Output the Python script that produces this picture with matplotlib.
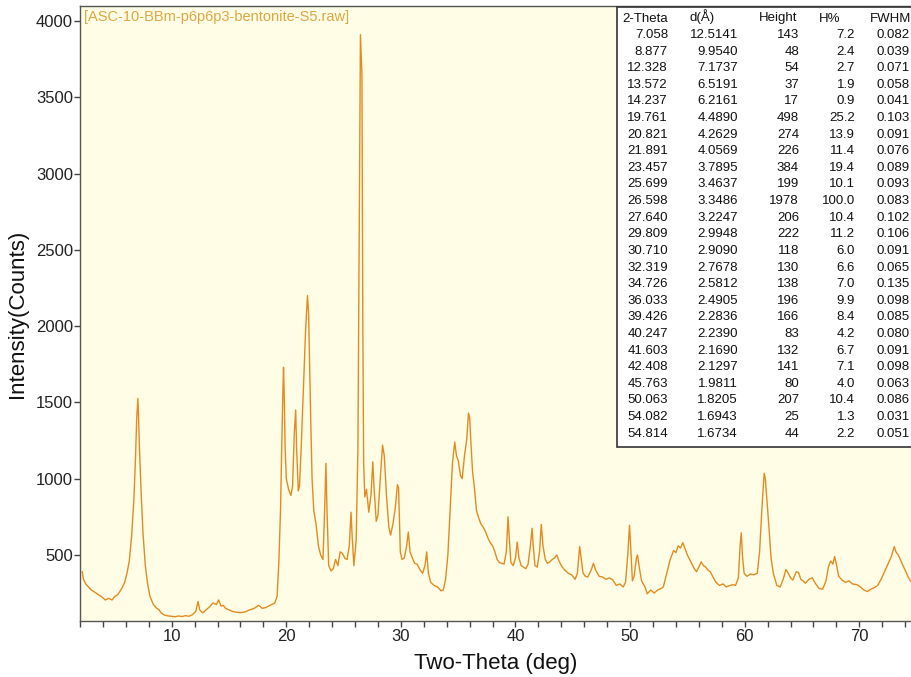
import matplotlib
matplotlib.use("Agg")
import matplotlib.pyplot as plt
from matplotlib.ticker import MultipleLocator
from matplotlib.patches import Rectangle

plt.rcParams['font.family'] = ['Liberation Sans', 'DejaVu Sans']

# ---- XRD pattern ----
two_theta = [2.2, 2.3, 2.5, 2.8, 3.0, 3.3, 3.6, 3.9, 4.2, 4.5, 4.8, 5.0, 5.3, 5.6, 5.9, 6.1, 6.3, 6.5, 6.7,
             6.85, 6.95, 7.05, 7.12, 7.2, 7.35, 7.5, 7.7, 7.9, 8.1, 8.4, 8.7, 8.9, 9.1, 9.4, 9.7, 10.0,
             10.3, 10.6, 10.9, 11.2, 11.5, 11.8, 12.1, 12.3, 12.45, 12.7, 13.0, 13.3, 13.6, 13.9, 14.1,
             14.3, 14.5, 14.7, 15.0, 15.3, 15.6, 16.0, 16.4, 16.8, 17.2, 17.6, 17.9, 18.2, 18.6, 19.0,
             19.2, 19.35, 19.5, 19.6, 19.7, 19.76, 19.82, 19.9, 20.0, 20.2, 20.4, 20.55, 20.7, 20.82,
             20.9, 21.05, 21.15, 21.3, 21.5, 21.7, 21.85, 21.95, 22.1, 22.25, 22.4, 22.6, 22.8, 23.0,
             23.2, 23.35, 23.46, 23.55, 23.7, 23.9, 24.1, 24.3, 24.5, 24.7, 24.9, 25.1, 25.3, 25.5,
             25.65, 25.75, 25.9, 26.1, 26.25, 26.38, 26.47, 26.6, 26.68, 26.75, 26.85, 27.0, 27.2, 27.4,
             27.55, 27.65, 27.85, 28.0, 28.2, 28.4, 28.55, 28.75, 28.95, 29.1, 29.3, 29.5, 29.7, 29.8,
             29.95, 30.1, 30.3, 30.5, 30.65, 30.8, 31.0, 31.2, 31.4, 31.7, 31.9, 32.1, 32.25, 32.4,
             32.6, 32.9, 33.2, 33.5, 33.7, 33.9, 34.1, 34.3, 34.5, 34.7, 34.85, 35.0, 35.2, 35.35,
             35.55, 35.75, 35.9, 36.0, 36.1, 36.25, 36.4, 36.6, 36.8, 37.0, 37.2, 37.4, 37.6, 37.8,
             38.0, 38.2, 38.4, 38.6, 38.8, 39.0, 39.2, 39.35, 39.45, 39.6, 39.8, 40.0, 40.15, 40.3,
             40.5, 40.7, 40.9, 41.1, 41.3, 41.45, 41.55, 41.7, 41.9, 42.1, 42.25, 42.4, 42.6, 42.8,
             43.0, 43.2, 43.4, 43.6, 43.8, 44.0, 44.3, 44.6, 44.9, 45.2, 45.4, 45.6, 45.75, 45.9,
             46.1, 46.3, 46.6, 46.8, 47.0, 47.3, 47.6, 47.9, 48.2, 48.5, 48.8, 49.1, 49.4, 49.6,
             49.8, 49.95, 50.05, 50.2, 50.35, 50.55, 50.65, 50.8, 51.0, 51.3, 51.5, 51.8, 52.1, 52.4,
             52.7, 52.9, 53.2, 53.5, 53.8, 54.0, 54.2, 54.4, 54.6, 54.8, 55.0, 55.2, 55.4, 55.6, 55.8,
             56.0, 56.2, 56.4, 56.6, 56.8, 57.0, 57.2, 57.5, 57.8, 58.1, 58.4, 58.7, 59.0, 59.2, 59.45,
             59.6, 59.7, 59.8, 59.95, 60.2, 60.5, 60.8, 61.1, 61.3, 61.5, 61.7, 61.8, 61.95, 62.1, 62.3,
             62.5, 62.8, 63.1, 63.4, 63.6, 63.8, 64.0, 64.2, 64.5, 64.7, 64.9, 65.1, 65.3, 65.6, 65.9,
             66.2, 66.5, 66.8, 67.1, 67.3, 67.5, 67.7, 67.85, 68.0, 68.2, 68.5, 68.8, 69.1, 69.4, 69.8,
             70.1, 70.4, 70.7, 71.0, 71.3, 71.6, 71.9, 72.2, 72.5, 72.8, 73.05, 73.2, 73.4, 73.7, 74.0,
             74.3, 74.6]
counts = [390, 340, 310, 285, 270, 255, 240, 225, 205, 215, 205, 225, 240, 275, 320, 380, 460, 620, 860,
          1150, 1400, 1525, 1380, 1170, 880, 640, 430, 310, 230, 175, 150, 140, 118, 105, 100, 98,
          95, 100, 96, 102, 98, 108, 130, 195, 140, 120, 140, 160, 185, 175, 205,
          165, 170, 150, 140, 130, 125, 122, 126, 140, 150, 170, 150, 155, 170, 185,
          230, 450, 800, 1200, 1560, 1730, 1550, 1200, 1000, 930, 890, 950, 1300, 1450,
          1200, 920, 950, 1200, 1600, 2000, 2200, 2080, 1500, 1000, 790, 700, 560, 500,
          470, 800, 1100, 800, 430, 395, 410, 470, 430, 520, 510, 480, 470, 560,
          780, 620, 430, 600, 1200, 2800, 3910, 3650, 2000, 1100, 880, 930, 780, 900,
          1110, 950, 720, 760, 1000, 1220, 1150, 880, 680, 630, 700, 800, 960, 940,
          520, 470, 480, 560, 650, 520, 480, 445, 440, 400, 380, 430, 520, 380,
          320, 300, 290, 265, 270, 340, 500, 800, 1100, 1240, 1150, 1120, 1020, 1000,
          1150, 1260, 1430, 1400, 1250, 1050, 950, 790, 740, 700, 680, 650, 610, 580,
          560, 520, 470, 450, 445, 440, 520, 750, 620, 450, 430, 480, 585, 480,
          430, 420, 410, 440, 560, 675, 560, 430, 420, 520, 700, 560, 470, 445,
          455, 470, 480, 500, 460, 430, 400, 380, 370, 340, 380, 555, 470, 380,
          360, 355, 400, 445, 400, 360, 355, 340, 350, 335, 300, 310, 290, 320,
          500, 695, 560, 330, 360, 480, 500, 420, 330, 290, 245, 270, 250, 270,
          280, 290, 380, 470, 530, 515, 560, 545, 580, 540, 500, 470, 440, 410, 390,
          420, 455, 430, 420, 400, 390, 360, 320, 300, 310, 290, 300, 305, 300, 350,
          560, 645, 500, 380, 360, 375, 370, 380, 520, 800, 1035, 1000, 850, 700, 480,
          380, 300, 290, 350, 405, 380, 350, 335, 390, 385, 340, 330, 315, 340, 350,
          310, 280, 275, 330, 420, 460, 440, 490, 440, 360, 335, 320, 330, 310, 305,
          290, 270, 260, 275, 285, 300, 340, 390, 440, 490, 555, 520, 500, 450, 400,
          350, 315]

# ---- Peak table ----
tab_headers = ["2-Theta", "d(Å)", "Height", "H%", "FWHM"]
tab_2theta = ["7.058", "8.877", "12.328", "13.572", "14.237", "19.761", "20.821", "21.891", "23.457",
              "25.699", "26.598", "27.640", "29.809", "30.710", "32.319", "34.726", "36.033", "39.426",
              "40.247", "41.603", "42.408", "45.763", "50.063", "54.082", "54.814"]
tab_d = ["12.5141", "9.9540", "7.1737", "6.5191", "6.2161", "4.4890", "4.2629", "4.0569", "3.7895",
         "3.4637", "3.3486", "3.2247", "2.9948", "2.9090", "2.7678", "2.5812", "2.4905", "2.2836",
         "2.2390", "2.1690", "2.1297", "1.9811", "1.8205", "1.6943", "1.6734"]
tab_height = ["143", "48", "54", "37", "17", "498", "274", "226", "384", "199", "1978", "206", "222",
              "118", "130", "138", "196", "166", "83", "132", "141", "80", "207", "25", "44"]
tab_hpct = ["7.2", "2.4", "2.7", "1.9", "0.9", "25.2", "13.9", "11.4", "19.4", "10.1", "100.0", "10.4",
            "11.2", "6.0", "6.6", "7.0", "9.9", "8.4", "4.2", "6.7", "7.1", "4.0", "10.4", "1.3", "2.2"]
tab_fwhm = ["0.082", "0.039", "0.071", "0.058", "0.041", "0.103", "0.091", "0.076", "0.089", "0.093",
            "0.083", "0.102", "0.106", "0.091", "0.065", "0.135", "0.098", "0.085", "0.080", "0.091",
            "0.098", "0.063", "0.086", "0.031", "0.051"]

W, H = 912, 677
fig = plt.figure(figsize=(W / 100, H / 100), dpi=100)
fig.patch.set_facecolor('white')

def fx(px):
    return px / W

def fy(py):
    return 1 - py / H

ax = fig.add_axes([fx(80), fy(621), fx(912) - fx(80), fy(6) - fy(621)])
ax.set_facecolor('#FFFDE6')
ax.plot(two_theta, counts, color='#E38B1F', lw=1.0)
ax.set_xlim(2.0, 74.6)
ax.set_ylim(67, 4098)

ax.xaxis.set_major_locator(MultipleLocator(10))
ax.xaxis.set_minor_locator(MultipleLocator(2))
ax.yaxis.set_major_locator(MultipleLocator(500))
ax.tick_params(axis='both', which='both', direction='out', length=4, width=1, color='#444444',
               labelsize=12, labelcolor='#222222', pad=2)
ax.tick_params(axis='y', which='major', pad=1)
for s in ax.spines.values():
    s.set_color('#555555')
    s.set_linewidth(1.0)

ax.set_xlabel("Two-Theta (deg)", fontsize=16, color='#111111', labelpad=6)
ax.set_ylabel("Intensity(Counts)", fontsize=16, color='#111111', labelpad=6)

fig.text(fx(84), fy(17), "[ASC-10-BBm-p6p6p3-bentonite-S5.raw]", fontsize=10.5, color='#DDA742',
         ha='left', va='center')

# table box
box = Rectangle((fx(617), fy(447)), fx(920) - fx(617), fy(7) - fy(447), transform=fig.transFigure,
                facecolor='white', edgecolor='#333333', lw=1.2, zorder=5)
fig.patches.append(box)

row0 = 21.5   # baseline of header row (px)
dy = 16.6
fs = 9.5
hdr_x = [622, 689, 759, 819, 870]
for h, x in zip(tab_headers, hdr_x):
    fig.text(fx(x), fy(row0), h, fontsize=fs, color='#111111', ha='left', va='baseline', zorder=6)
cols = [(tab_2theta, 668, 'right'), (tab_d, 738, 'right'), (tab_height, 799, 'right'),
        (tab_hpct, 855, 'right'), (tab_fwhm, 877, 'left')]
for vals, x, ha in cols:
    for i, v in enumerate(vals):
        fig.text(fx(x), fy(row0 + dy * (i + 1)), v, fontsize=fs, color='#111111', ha=ha,
                 va='baseline', zorder=6)

fig.savefig("out.png", dpi=100)
